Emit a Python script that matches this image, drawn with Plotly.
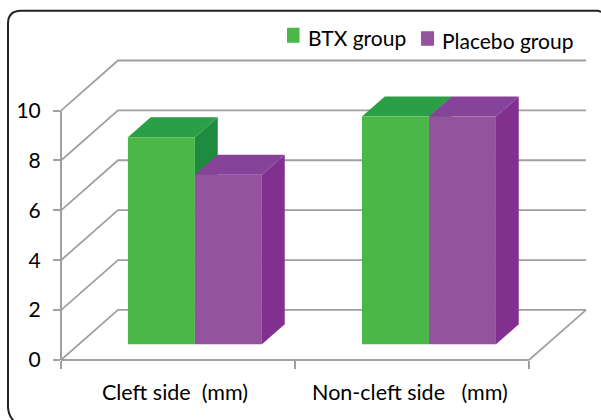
import plotly.graph_objects as go

categories = ["Cleft side\u00a0 (mm)", "Non-cleft side\u00a0\u00a0 (mm)"]
btx_values = [8.3, 9.13]
placebo_values = [6.8, 9.13]
y_ticks = [0, 2, 4, 6, 8, 10]
series_names = ["BTX group", "Placebo group"]

W, H = 601, 420
X0_PX, Y0_PX = 61, 359.7          # pixel position of the axes origin
XU, YU = 234, 24.9                # pixels per data unit
DEPTH_X, DEPTH_Y = 57 / XU, 50 / YU
X_MAX = 2 + DEPTH_X + 0.004
Y_MAX = 10 + DEPTH_Y + 0.1
ML, MB = X0_PX, H - Y0_PX
PW, PH = X_MAX * XU, Y_MAX * YU
MR, MT = W - ML - PW, Y0_PX - PH
BAR_W = 67 / XU
GROUP_GAP = 49 / XU
D0, D1 = 0.314, 0.714             # bar depth span (fraction of floor depth)

GRID = "#A0A0A0"
FONT = "Lato, Noto Sans, sans-serif"
COLORS = {
    "BTX group": ("#4BB749", "#2A9F46", "#1F8B40"),
    "Placebo group": ("#95529E", "#87429A", "#823090"),
}


def px(x):
    return (x - ML) / PW


def py(y):
    return (Y0_PX - y) / PH


def poly(fig, xs, ys, color):
    fig.add_trace(go.Scatter(x=xs, y=ys, mode="lines", fill="toself", fillcolor=color,
                             line=dict(width=0, color=color), showlegend=False,
                             hoverinfo="skip"))


fig = go.Figure()

# walls and floor
for v in y_ticks:
    fig.add_trace(go.Scatter(x=[0, DEPTH_X, 2 + DEPTH_X], y=[v, v + DEPTH_Y, v + DEPTH_Y],
                             mode="lines", line=dict(color=GRID, width=1.8),
                             showlegend=False, hoverinfo="skip"))
fig.add_trace(go.Scatter(x=[2, 2 + DEPTH_X], y=[0, DEPTH_Y], mode="lines",
                         line=dict(color=GRID, width=1.8), showlegend=False,
                         hoverinfo="skip"))

# bars
for c in range(len(categories)):
    for s, (name, vals) in enumerate(zip(series_names, [btx_values, placebo_values])):
        front, top, side = COLORS[name]
        x0 = c + GROUP_GAP + s * BAR_W + D0 * DEPTH_X
        x1 = x0 + BAR_W
        base = D0 * DEPTH_Y
        h = base + vals[c]
        dx = (D1 - D0) * DEPTH_X
        dy = (D1 - D0) * DEPTH_Y
        poly(fig, [x1, x1 + dx, x1 + dx, x1, x1], [base, base + dy, h + dy, h, base], side)
        poly(fig, [x0, x0 + dx, x1 + dx, x1, x0], [h, h + dy, h + dy, h, h], top)
        poly(fig, [x0, x1, x1, x0, x0], [base, base, h, h, base], front)

# frame with rounded corner, open to the right and bottom
frame = (f"M {px(14)} {py(421)} Q {px(8)} {py(414)} {px(8)} {py(406)} "
         f"L {px(8)} {py(24)} Q {px(8)} {py(11)} {px(21)} {py(11)} "
         f"L {px(598)} {py(11)} L {px(601)} {py(12)}")
shapes = [
    dict(type="path", xref="paper", yref="paper", path=frame,
         line=dict(color="#222222", width=2), layer="below"),
    # axis lines stop short of the wall depth, so they are drawn in axis fractions
    dict(type="line", xref="paper", yref="paper", x0=0, x1=2 / X_MAX, y0=0, y1=0,
         line=dict(color=GRID, width=2)),
    dict(type="line", xref="paper", yref="paper", x0=0, x1=0, y0=0, y1=10 / Y_MAX,
         line=dict(color=GRID, width=2)),
]

# legend
swatches = [(287, 28, 299.5, 43), (421, 31.5, 434, 46)]
labels = [(306, 37.5), (440, 40.5)]
annotations = []
for name, (a, b, c_, d), (lx, ly) in zip(series_names, swatches, labels):
    shapes.append(dict(type="rect", xref="paper", yref="paper", x0=px(a), x1=px(c_),
                       y0=py(d), y1=py(b), fillcolor=COLORS[name][0], line=dict(width=0)))
    annotations.append(dict(text=name, xref="paper", yref="paper", x=px(lx), y=py(ly),
                            xanchor="left", yanchor="middle", showarrow=False,
                            font=dict(family=FONT, size=21, color="#000000")))

fig.update_layout(
    width=W, height=H, margin=dict(l=ML, r=MR, t=MT, b=MB, autoexpand=False),
    paper_bgcolor="white", plot_bgcolor="rgba(0,0,0,0)", showlegend=False,
    shapes=shapes, annotations=annotations,
    xaxis=dict(range=[0, X_MAX], tickmode="array", tickvals=[0.487, 1.491], ticktext=categories,
               ticks="", showgrid=False, zeroline=False, showline=False,
               ticklabelstandoff=17,
               tickfont=dict(family=FONT, size=21.5, color="#000000"),
               minor=dict(tickmode="array", tickvals=[0, 1, 2], ticks="outside", ticklen=8,
                          tickcolor=GRID, tickwidth=1.5, showgrid=False)),
    yaxis=dict(range=[0, Y_MAX], tickmode="array", tickvals=y_ticks, ticks="outside", ticklen=7,
               tickcolor=GRID, tickwidth=1.5, showgrid=False, zeroline=False, showline=False,
               ticklabelstandoff=8,
               tickfont=dict(family=FONT, size=21, color="#000000")),
)

fig.write_html("out.html", config=dict(displayModeBar=False),
               post_script="document.body.style.margin='0';")
